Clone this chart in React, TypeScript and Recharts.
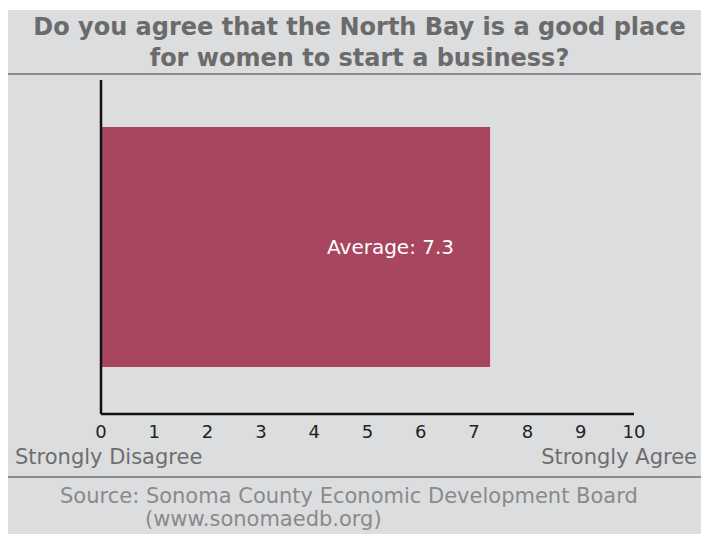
import { BarChart, Bar, XAxis, YAxis, LabelList } from "recharts";

const categories = ["North Bay"];
const averages = [7.3];
const xTicks = [0, 1, 2, 3, 4, 5, 6, 7, 8, 9, 10];

const data = categories.map((name, i) => ({ name, value: averages[i] }));

const FONT = "'DejaVu Sans', Verdana, sans-serif";
const BG = "#dcdddf";

export default function App() {
  return (
    <div
      style={{
        position: "absolute",
        left: 8,
        top: 10,
        width: 693,
        height: 524,
        background: BG,
        fontFamily: FONT,
        overflow: "hidden",
      }}
    >
      {/* TITLE */}
      <div
        style={{
          position: "absolute",
          top: 2,
          left: 5,
          width: 693,
          textAlign: "center",
          fontWeight: 700,
          fontSize: 24,
          lineHeight: "31px",
          color: "#6b6b6b",
        }}
      >
        Do you agree that the North Bay is a good place
        <br />
        for women to start a business?
      </div>
      <div style={{ position: "absolute", top: 63, left: 0, width: 693, height: 2, background: "#8c8c8c" }} />

      {/* CHART */}
      <div style={{ position: "absolute", left: 0, top: 0 }}>
        <BarChart
          width={693}
          height={524}
          data={data}
          layout="vertical"
          margin={{ top: 70, right: 67, bottom: 90, left: 92 }}
          barCategoryGap={47}
        >
          <XAxis
            type="number"
            domain={[0, 10]}
            ticks={xTicks}
            height={30}
            tickLine={false}
            tickMargin={5}
            axisLine={{ stroke: "#111", strokeWidth: 2.5 }}
            tick={{ fill: "#222", fontSize: 18, fontFamily: FONT }}
          />
          <YAxis
            type="category"
            dataKey="name"
            width={1}
            tick={false}
            tickLine={false}
            axisLine={{ stroke: "#111", strokeWidth: 2.5 }}
          />
          <Bar dataKey="value" fill="#a8465f" isAnimationActive={false}>
            <LabelList
              dataKey="value"
              position="insideRight"
              offset={36}
              formatter={(v: number) => `Average: ${v}`}
              fill="#fff"
              fontSize={20}
              fontFamily={FONT}
            />
          </Bar>
        </BarChart>
      </div>

      {/* SCALE ENDS */}
      <div style={{ position: "absolute", left: 7, top: 434, fontSize: 21, color: "#6e6e6e", lineHeight: "26px" }}>
        Strongly Disagree
      </div>
      <div style={{ position: "absolute", right: 4, top: 434, fontSize: 21, color: "#6e6e6e", lineHeight: "26px" }}>
        Strongly Agree
      </div>
      <div style={{ position: "absolute", top: 466, left: 0, width: 693, height: 2, background: "#8c8c8c" }} />

      {/* SOURCE */}
      <div
        style={{
          position: "absolute",
          top: 475,
          left: 52,
          fontSize: 21,
          lineHeight: "23px",
          color: "#8a8a8a",
        }}
      >
        Source: Sonoma County Economic Development Board
        <br />
        <span style={{ paddingLeft: 85 }}>(www.sonomaedb.org)</span>
      </div>
    </div>
  );
}
